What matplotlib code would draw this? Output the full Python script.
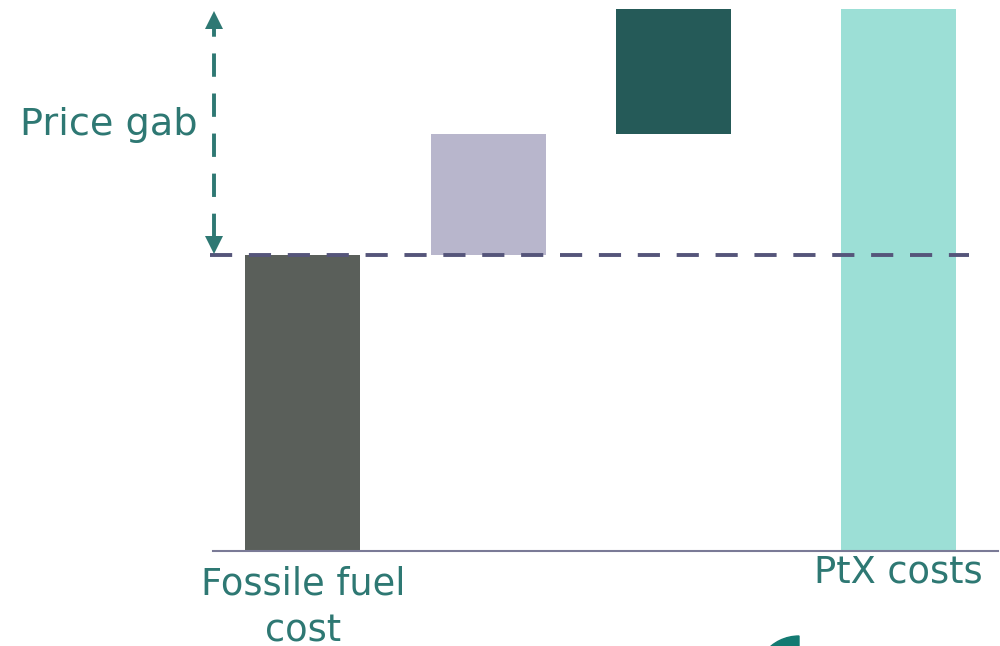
import matplotlib.pyplot as plt
from matplotlib.patches import Wedge
from matplotlib.transforms import ScaledTranslation

# waterfall values (fossil fuel cost = 1.0)
labels = ['Fossile fuel\ncost', '', '', 'PtX costs']
positions = [0, 1, 2, 3.21]
steps = [1.0, 0.41, 0.42]
ptx_total = 1.83
colors = ['#5A5F5A', '#B8B6CC', '#255A58', '#9CDFD6']

text_col = '#2E7873'
dash_col = '#55557A'

fig = plt.figure(figsize=(10, 6.46), dpi=100)
ax = fig.add_axes([0.213, 0.147, 0.785, 0.853])

bottoms = [0, steps[0], steps[0] + steps[1], 0]
heights = [steps[0], steps[1], steps[2], ptx_total]
ax.bar(positions, heights, bottom=bottoms, width=0.62, color=colors, zorder=2)

ax.set_xlim(-0.485, 3.747)
ax.set_ylim(0, 1.861)

# reference line at fossil fuel level
ax.plot([-0.50, 3.59], [steps[0], steps[0]], color=dash_col, lw=2.8,
        dashes=(5.7, 4.3), zorder=3, clip_on=False)

# price gap arrow
ax_x = -0.48
ax.plot([ax_x, ax_x], [steps[0] + 0.06, 1.77], color=text_col, lw=2.8,
        dashes=(6, 4.3), zorder=4, clip_on=False)
ax.plot(ax_x, 1.795, marker='^', ms=13, color=text_col, mew=0, zorder=4, clip_on=False)
ax.plot(ax_x, steps[0] + 0.035, marker='v', ms=13, color=text_col, mew=0, zorder=4, clip_on=False)
fig.text(0.1085, 1 - 125 / 646, 'Price gab', color=text_col, fontsize=27.5,
         ha='center', va='center')

for s in ['top', 'right', 'left']:
    ax.spines[s].set_visible(False)
ax.spines['bottom'].set_color('#7A7A96')
ax.spines['bottom'].set_linewidth(1.5)
ax.set_yticks([])
ax.set_xticks(positions)
ax.set_xticklabels(labels, color=text_col, fontsize=26.5, linespacing=1.34)
ax.tick_params(axis='x', length=0, pad=10.5)

# PtX label sits a bit higher than the fossil label
ptx_lbl = ax.get_xticklabels()[3]
ptx_lbl.set_transform(ptx_lbl.get_transform() + ScaledTranslation(0, 8.5 / 72, fig.dpi_scale_trans))

# cut-off logo fragment at bottom
fig.patches.append(Wedge((799, -34), 44, 90, 142, color='#137A72',
                         transform=None, figure=fig))

fig.savefig('out.png', dpi=100)
